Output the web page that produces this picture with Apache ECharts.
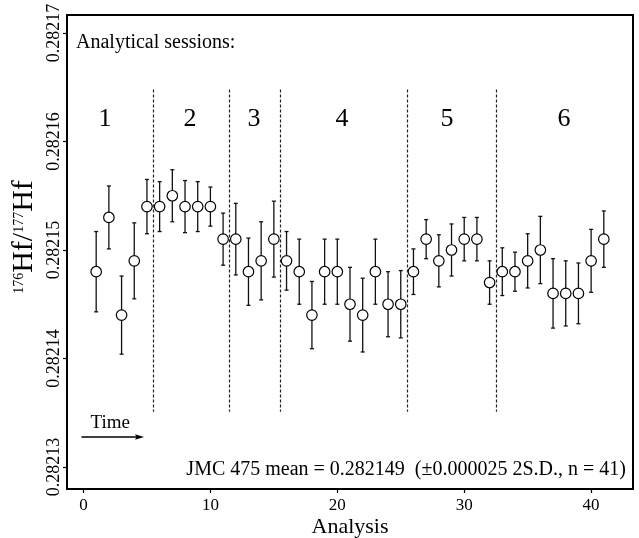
<!DOCTYPE html>
<html><head><meta charset="utf-8">
<script src="https://cdn.jsdelivr.net/npm/echarts@6/dist/echarts.min.js"></script>
<style>html,body{margin:0;padding:0;background:#fff}#c{width:639px;height:538px}</style>
</head><body><div id="c"></div>
<script>
// ---- data ----
const analysis = [1,2,3,4,5,6,7,8,9,10,11,12,13,14,15,16,17,18,19,20,21,22,23,24,25,26,27,28,29,30,31,32,33,34,35,36,37,38,39,40,41];
const hfRatio = [0.282148,0.282153,0.282144,0.282149,0.282154,0.282154,0.282155,0.282154,0.282154,0.282154,
                 0.282151,0.282151,0.282148,0.282149,0.282151,0.282149,0.282148,0.282144,0.282148,0.282148,
                 0.282145,0.282144,0.282148,0.282145,0.282145,0.282148,0.282151,0.282149,0.282150,0.282151,
                 0.282151,0.282147,0.282148,0.282148,0.282149,0.282150,0.282146,0.282146,0.282146,0.282149,
                 0.282151];
const err2se = [0.0000037,0.0000029,0.0000036,0.0000035,0.0000025,0.0000023,0.0000024,0.0000024,0.0000023,0.0000018,
                0.0000024,0.0000033,0.0000031,0.0000036,0.0000035,0.0000027,0.0000030,0.0000031,0.0000030,0.0000030,
                0.0000034,0.0000034,0.0000030,0.0000030,0.0000031,0.0000021,0.0000018,0.0000024,0.0000024,0.0000020,
                0.0000020,0.0000020,0.0000022,0.0000018,0.0000025,0.0000031,0.0000032,0.0000030,0.0000028,0.0000029,
                0.0000026];
const meanValue = 0.282149;
const sessionBounds = [5.5, 11.5, 15.5, 25.5, 32.5];
const sessionNames = ['1','2','3','4','5','6'];
const xTicks = [0, 10, 20, 30, 40];
const yTicks = [0.28213, 0.28214, 0.28215, 0.28216, 0.28217];
const dividerTop = 0.2821648, dividerBottom = 0.2821351;

const FONT = '"Liberation Serif", "DejaVu Serif", serif';
const chart = echarts.init(document.getElementById('c'), null, {renderer: 'canvas'});

const errData = analysis.map((a, i) => [a, hfRatio[i] - err2se[i], hfRatio[i] + err2se[i]]);
const pts = analysis.map((a, i) => [a, hfRatio[i]]);

const sessionLabelPx = [105, 190, 254, 342, 447, 564];

const option = {
  animation: false,
  backgroundColor: '#fff',
  grid: {left: 67, right: 6, top: 15, bottom: 49, show: true, borderColor: '#000', borderWidth: 2,
         backgroundColor: 'transparent', containLabel: false, outerBoundsMode: 'none'},
  xAxis: {
    type: 'value', min: -1.3, max: 43.3,
    axisLine: {show: false, onZero: false},
    splitLine: {show: false},
    axisTick: {show: true, customValues: xTicks, length: 4, lineStyle: {color: '#000', width: 1.2}},
    axisLabel: {customValues: xTicks, color: '#000', fontFamily: FONT, fontSize: 17, margin: 8},
    name: 'Analysis', nameLocation: 'middle', nameGap: 27, nameMoveOverlap: false,
    nameTextStyle: {color: '#000', fontFamily: FONT, fontSize: 22}
  },
  yAxis: {
    type: 'value', min: 0.28212797, max: 0.28217166,
    axisLine: {show: false, onZero: false},
    splitLine: {show: false},
    axisTick: {show: true, customValues: yTicks, length: 4, lineStyle: {color: '#000', width: 1.2}},
    axisLabel: {customValues: yTicks, rotate: 90, color: '#000', fontFamily: FONT, fontSize: 18, margin: 4,
      formatter: v => Number(v).toFixed(5)},
    name: '{s|176}{b|Hf/}{s|177}{b|Hf}', nameLocation: 'middle', nameGap: 28, nameRotate: 90, nameMoveOverlap: false,
    nameTextStyle: {color: '#000', fontFamily: FONT, padding: [0, 0, 0, 30],
      rich: {
        b: {fontFamily: FONT, fontSize: 30, color: '#000'},
        s: {fontFamily: FONT, fontSize: 14, color: '#000', verticalAlign: 'top', padding: [3, 0, 0, 0]}
      }}
  },
  series: [
    {
      type: 'custom', z: 2, silent: true,
      data: errData,
      encode: {x: 0, y: [1, 2]},
      renderItem: function (params, api) {
        const x = api.value(0);
        const top = api.coord([x, api.value(2)]);
        const bot = api.coord([x, api.value(1)]);
        const c = 2;
        const st = {stroke: '#111', lineWidth: 1.3};
        return {type: 'group', children: [
          {type: 'line', shape: {x1: top[0], y1: top[1], x2: bot[0], y2: bot[1]}, style: st},
          {type: 'line', shape: {x1: top[0] - c, y1: top[1], x2: top[0] + c, y2: top[1]}, style: st},
          {type: 'line', shape: {x1: bot[0] - c, y1: bot[1], x2: bot[0] + c, y2: bot[1]}, style: st}
        ]};
      },
      markLine: {
        silent: true, symbol: ['none', 'none'], label: {show: false},
        data: [
          {yAxis: meanValue, lineStyle: {color: '#000', width: 1.2, type: 'solid'}}
        ].concat(sessionBounds.map(b => [
          {coord: [b, dividerTop], lineStyle: {color: '#222', width: 1.2, type: [3, 2]}},
          {coord: [b, dividerBottom]}
        ]))
      }
    },
    {
      type: 'scatter', z: 3, silent: true,
      data: pts, symbol: 'circle', symbolSize: 10.5,
      itemStyle: {color: '#fff', borderColor: '#000', borderWidth: 1.2, opacity: 1}
    }
  ],
  graphic: [
    {type: 'text', x: 76, y: 43, style: {text: 'Analytical sessions:', font: '20px ' + FONT, fill: '#000', verticalAlign: 'middle', align: 'left'}},
    ...sessionNames.map((s, i) => ({type: 'text', x: sessionLabelPx[i], y: 119, style: {text: s, font: '26px ' + FONT, fill: '#000', align: 'center', verticalAlign: 'middle'}})),
    {type: 'text', x: 90.5, y: 423, style: {text: 'Time', font: '19px ' + FONT, fill: '#000', align: 'left', verticalAlign: 'middle'}},
    {type: 'line', shape: {x1: 81.5, y1: 437, x2: 138, y2: 437}, style: {stroke: '#000', lineWidth: 1.3}},
    {type: 'polygon', shape: {points: [[144, 437], [135, 434.3], [136.5, 437], [135, 439.7]]}, style: {fill: '#000'}},
    {type: 'text', x: 626, y: 470, style: {text: 'JMC 475 mean = 0.282149  (\u00b10.000025 2S.D., n = 41)', font: '20px ' + FONT, fill: '#000', align: 'right', verticalAlign: 'middle'}}
  ]
};
chart.setOption(option);
</script>
</body></html>
